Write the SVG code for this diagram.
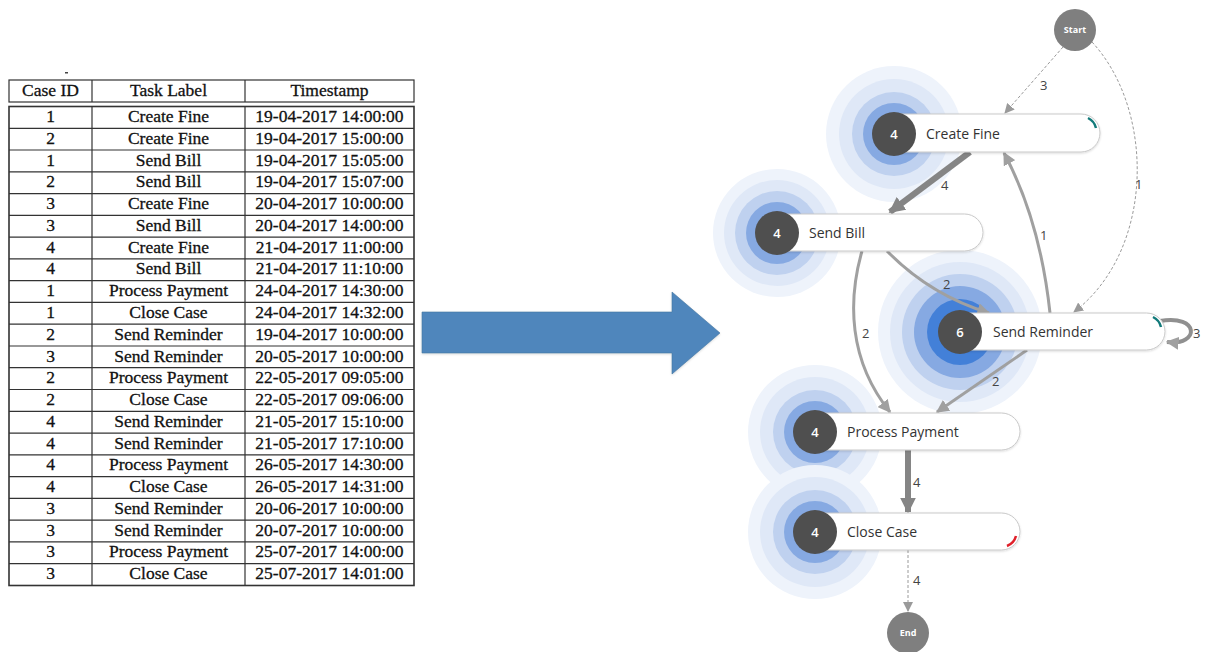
<svg xmlns="http://www.w3.org/2000/svg" width="1206" height="652" viewBox="0 0 1206 652">
<style>
.tb{font-family:"Liberation Serif",serif;font-size:17.5px;fill:#111;stroke:#111;stroke-width:0.3;text-anchor:middle}
.tl{stroke:#333;stroke-width:1.2;fill:none}
.pill{fill:#fff;stroke:#c9c9c9;stroke-width:1}
.dot{fill:#4f4f4f}
.cnt{font-family:"Open Sans",sans-serif;font-size:13px;font-weight:600;fill:#fff;text-anchor:middle}
.lbl{font-family:"Open Sans",sans-serif;font-size:14px;fill:#333}
.el{font-family:"Open Sans",sans-serif;font-size:13px;fill:#444}
.se{fill:#7f7f7f}
.set{font-family:"Open Sans",sans-serif;font-size:9px;font-weight:700;fill:#fff;text-anchor:middle}
.dash{stroke:#9a9a9a;stroke-width:1;stroke-dasharray:3,2;fill:none}
.med{stroke:#a0a0a0;stroke-width:3;fill:none}
.thick{stroke:#858585;stroke-width:6;fill:none}
.h1{fill:#eef3fb}.h2{fill:#dfe8f7}.h3{fill:#bfd1ef}.h4{fill:#86a9e2}.h5{fill:#4380d8}
</style>
<defs>
<marker id="aDash" viewBox="0 0 10 10" refX="9" refY="5" markerWidth="10" markerHeight="10" markerUnits="userSpaceOnUse" orient="auto"><path d="M0,0 L10,5 L0,10 z" fill="#9a9a9a"/></marker>
<marker id="aMed" viewBox="0 0 10 10" refX="9" refY="5" markerWidth="13" markerHeight="13" markerUnits="userSpaceOnUse" orient="auto"><path d="M0,0 L10,5 L0,10 z" fill="#a0a0a0"/></marker>
<marker id="aThick" viewBox="0 0 10 10" refX="9" refY="5" markerWidth="16" markerHeight="16" markerUnits="userSpaceOnUse" orient="auto"><path d="M0,0 L10,5 L0,10 z" fill="#858585"/></marker>
<filter id="sh" x="-10%" y="-10%" width="120%" height="130%"><feDropShadow dx="0" dy="1" stdDeviation="1" flood-color="#000" flood-opacity="0.15"/></filter>
</defs>
<rect width="1206" height="652" fill="#fff"/>

<g id="table">
<rect x="65" y="72" width="3" height="1.5" fill="#444"/>
<rect class="tl" x="9" y="80" width="405" height="22"/>
<line class="tl" x1="92" y1="80" x2="92" y2="102"/>
<line class="tl" x1="245" y1="80" x2="245" y2="102"/>
<text class="tb" x="50.5" y="96">Case ID</text>
<text class="tb" x="168.5" y="96">Task Label</text>
<text class="tb" x="329.5" y="96">Timestamp</text>
<rect class="tl" x="9" y="106.5" width="405" height="479" style="stroke-width:1.6"/>
<line class="tl" x1="92" y1="106.5" x2="92" y2="585.5"/>
<line class="tl" x1="245" y1="106.5" x2="245" y2="585.5"/>
<g class="tl">
<line x1="9" x2="414" y1="128.3" y2="128.3"/><line x1="9" x2="414" y1="150" y2="150"/><line x1="9" x2="414" y1="171.8" y2="171.8"/><line x1="9" x2="414" y1="193.6" y2="193.6"/><line x1="9" x2="414" y1="215.4" y2="215.4"/><line x1="9" x2="414" y1="237.1" y2="237.1"/><line x1="9" x2="414" y1="258.9" y2="258.9"/><line x1="9" x2="414" y1="280.7" y2="280.7"/><line x1="9" x2="414" y1="302.4" y2="302.4"/><line x1="9" x2="414" y1="324.2" y2="324.2"/><line x1="9" x2="414" y1="346" y2="346"/><line x1="9" x2="414" y1="367.7" y2="367.7"/><line x1="9" x2="414" y1="389.5" y2="389.5"/><line x1="9" x2="414" y1="411.3" y2="411.3"/><line x1="9" x2="414" y1="433.1" y2="433.1"/><line x1="9" x2="414" y1="454.8" y2="454.8"/><line x1="9" x2="414" y1="476.6" y2="476.6"/><line x1="9" x2="414" y1="498.4" y2="498.4"/><line x1="9" x2="414" y1="520.1" y2="520.1"/><line x1="9" x2="414" y1="541.9" y2="541.9"/><line x1="9" x2="414" y1="563.7" y2="563.7"/>
</g>
<g class="tb">
<text x="50.5" y="122">1</text><text x="168.5" y="122">Create Fine</text><text x="329.5" y="122">19-04-2017 14:00:00</text>
<text x="50.5" y="143.8">2</text><text x="168.5" y="143.8">Create Fine</text><text x="329.5" y="143.8">19-04-2017 15:00:00</text>
<text x="50.5" y="165.5">1</text><text x="168.5" y="165.5">Send Bill</text><text x="329.5" y="165.5">19-04-2017 15:05:00</text>
<text x="50.5" y="187.3">2</text><text x="168.5" y="187.3">Send Bill</text><text x="329.5" y="187.3">19-04-2017 15:07:00</text>
<text x="50.5" y="209.1">3</text><text x="168.5" y="209.1">Create Fine</text><text x="329.5" y="209.1">20-04-2017 10:00:00</text>
<text x="50.5" y="230.9">3</text><text x="168.5" y="230.9">Send Bill</text><text x="329.5" y="230.9">20-04-2017 14:00:00</text>
<text x="50.5" y="252.6">4</text><text x="168.5" y="252.6">Create Fine</text><text x="329.5" y="252.6">21-04-2017 11:00:00</text>
<text x="50.5" y="274.4">4</text><text x="168.5" y="274.4">Send Bill</text><text x="329.5" y="274.4">21-04-2017 11:10:00</text>
<text x="50.5" y="296.2">1</text><text x="168.5" y="296.2">Process Payment</text><text x="329.5" y="296.2">24-04-2017 14:30:00</text>
<text x="50.5" y="317.9">1</text><text x="168.5" y="317.9">Close Case</text><text x="329.5" y="317.9">24-04-2017 14:32:00</text>
<text x="50.5" y="339.7">2</text><text x="168.5" y="339.7">Send Reminder</text><text x="329.5" y="339.7">19-04-2017 10:00:00</text>
<text x="50.5" y="361.5">3</text><text x="168.5" y="361.5">Send Reminder</text><text x="329.5" y="361.5">20-05-2017 10:00:00</text>
<text x="50.5" y="383.2">2</text><text x="168.5" y="383.2">Process Payment</text><text x="329.5" y="383.2">22-05-2017 09:05:00</text>
<text x="50.5" y="405">2</text><text x="168.5" y="405">Close Case</text><text x="329.5" y="405">22-05-2017 09:06:00</text>
<text x="50.5" y="426.8">4</text><text x="168.5" y="426.8">Send Reminder</text><text x="329.5" y="426.8">21-05-2017 15:10:00</text>
<text x="50.5" y="448.6">4</text><text x="168.5" y="448.6">Send Reminder</text><text x="329.5" y="448.6">21-05-2017 17:10:00</text>
<text x="50.5" y="470.3">4</text><text x="168.5" y="470.3">Process Payment</text><text x="329.5" y="470.3">26-05-2017 14:30:00</text>
<text x="50.5" y="492.1">4</text><text x="168.5" y="492.1">Close Case</text><text x="329.5" y="492.1">26-05-2017 14:31:00</text>
<text x="50.5" y="513.9">3</text><text x="168.5" y="513.9">Send Reminder</text><text x="329.5" y="513.9">20-06-2017 10:00:00</text>
<text x="50.5" y="535.6">3</text><text x="168.5" y="535.6">Send Reminder</text><text x="329.5" y="535.6">20-07-2017 10:00:00</text>
<text x="50.5" y="557.4">3</text><text x="168.5" y="557.4">Process Payment</text><text x="329.5" y="557.4">25-07-2017 14:00:00</text>
<text x="50.5" y="579.2">3</text><text x="168.5" y="579.2">Close Case</text><text x="329.5" y="579.2">25-07-2017 14:01:00</text>
</g>
</g>

<g id="big-arrow">
<polygon points="422,312 672,312 672,292 720,333 672,374 672,353 422,353" fill="#4f86bc" stroke="#44769f" stroke-width="0.6" filter="url(#sh)"/>
</g>

<g id="halos">
<circle class="h1" cx="894" cy="134" r="68"/><circle class="h2" cx="894" cy="134" r="55"/><circle class="h3" cx="894" cy="134" r="42"/><circle class="h4" cx="894" cy="134" r="31"/>
<circle class="h1" cx="777" cy="233" r="64"/><circle class="h2" cx="777" cy="233" r="53"/><circle class="h3" cx="777" cy="233" r="42"/><circle class="h4" cx="777" cy="233" r="31"/>
<circle class="h1" cx="960" cy="332" r="82"/><circle class="h2" cx="960" cy="332" r="70"/><circle class="h3" cx="960" cy="332" r="58"/><circle class="h4" cx="960" cy="332" r="46"/><circle class="h5" cx="960" cy="332" r="33"/>
<circle class="h1" cx="815" cy="432" r="67"/><circle class="h2" cx="815" cy="432" r="55"/><circle class="h3" cx="815" cy="432" r="42"/><circle class="h4" cx="815" cy="432" r="31"/>
<circle class="h1" cx="815" cy="532" r="67"/><circle class="h2" cx="815" cy="532" r="55"/><circle class="h3" cx="815" cy="532" r="42"/><circle class="h4" cx="815" cy="532" r="31"/>
</g>

<g id="connectors">
<path class="dash" d="M1063,47 L1005,113" marker-end="url(#aDash)"/>
<text class="el" x="1040" y="90">3</text>
<path class="dash" d="M1092,42 C1155,110 1155,250 1074,312" marker-end="url(#aDash)"/>
<text class="el" x="1135" y="189">1</text>
<path class="thick" d="M970,152 L890,212" marker-end="url(#aThick)"/>
<text class="el" x="941" y="190">4</text>
<path class="med" d="M1050,313 Q1040,220 1004,153" marker-end="url(#aMed)"/>
<text class="el" x="1040" y="240">1</text>
<path class="med" d="M887,251 Q930,295 989,313" marker-end="url(#aMed)"/>
<text class="el" x="943" y="289">2</text>
<path class="med" d="M862,251 C848,300 848,360 890,412" marker-end="url(#aMed)"/>
<text class="el" x="862" y="338">2</text>
<path class="med" d="M1027,350 L937,412" marker-end="url(#aMed)"/>
<text class="el" x="992" y="386">2</text>
<path class="thick" d="M908,450 L908,512" marker-end="url(#aThick)"/>
<text class="el" x="913" y="487">4</text>
<path class="dash" d="M908,550 L908,611" marker-end="url(#aDash)"/>
<text class="el" x="913" y="585">4</text>
<path d="M1160,321 C1200,314 1200,346 1167,342" stroke="#909090" stroke-width="4" fill="none" marker-end="url(#aMed)"/>
<text class="el" x="1193" y="338">3</text>
</g>

<g id="start">
<circle class="se" cx="1075" cy="30" r="21"/>
<text class="set" x="1075" y="33">Start</text>
</g>
<g id="end">
<circle class="se" cx="908" cy="633" r="21"/>
<text class="set" x="908" y="636">End</text>
</g>

<g id="create-fine">
<rect class="pill" x="880" y="114" width="220" height="38" rx="19" filter="url(#sh)"/>
<path d="M1088,118 A15,15 0 0 1 1096,128" stroke="#127a7a" stroke-width="2.5" fill="none"/>
<circle class="dot" cx="894" cy="134" r="22"/>
<text class="cnt" x="894" y="139">4</text>
<text class="lbl" x="926" y="139">Create Fine</text>
</g>
<g id="send-bill">
<rect class="pill" x="765" y="214" width="218" height="37" rx="18.5" filter="url(#sh)"/>
<circle class="dot" cx="777" cy="233" r="22"/>
<text class="cnt" x="777" y="238">4</text>
<text class="lbl" x="809" y="238">Send Bill</text>
</g>
<g id="send-reminder">
<rect class="pill" x="948" y="313" width="217" height="37" rx="18.5" filter="url(#sh)"/>
<path d="M1153,317 A15,15 0 0 1 1161,327" stroke="#127a7a" stroke-width="2.5" fill="none"/>
<circle class="dot" cx="960" cy="332" r="22"/>
<text class="cnt" x="960" y="337">6</text>
<text class="lbl" x="993" y="337">Send Reminder</text>
</g>
<g id="process-payment">
<rect class="pill" x="803" y="413" width="217" height="37" rx="18.5" filter="url(#sh)"/>
<circle class="dot" cx="815" cy="432" r="22"/>
<text class="cnt" x="815" y="437">4</text>
<text class="lbl" x="847" y="437">Process Payment</text>
</g>
<g id="close-case">
<rect class="pill" x="803" y="513" width="217" height="37" rx="18.5" filter="url(#sh)"/>
<path d="M1016,536 A15,15 0 0 1 1007,546" stroke="#e0202a" stroke-width="2.5" fill="none"/>
<circle class="dot" cx="815" cy="532" r="22"/>
<text class="cnt" x="815" y="537">4</text>
<text class="lbl" x="847" y="537">Close Case</text>
</g>
</svg>
